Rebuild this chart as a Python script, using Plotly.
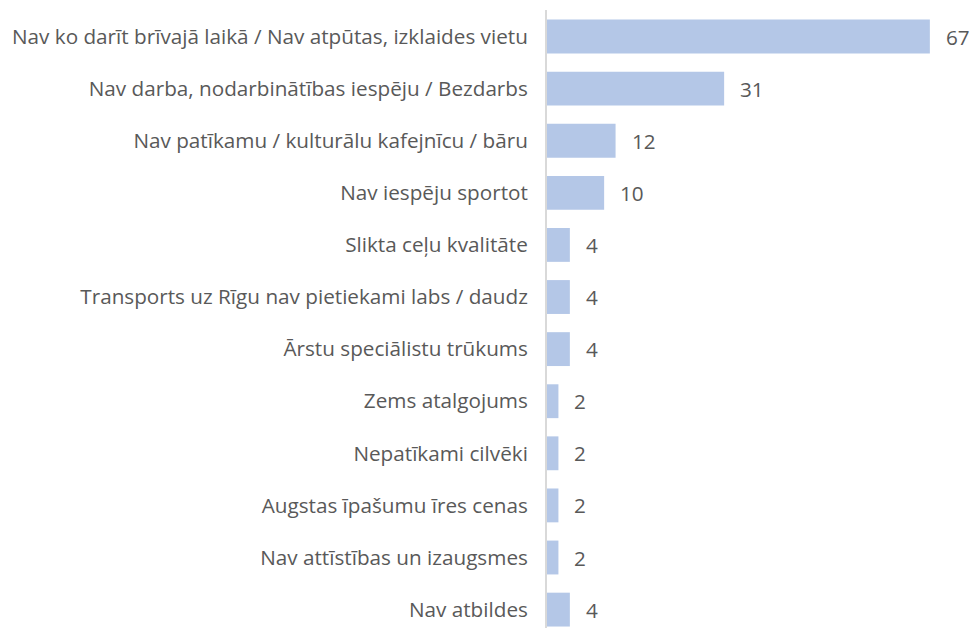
import plotly.graph_objects as go

categories = [
    "Nav ko darīt brīvajā laikā / Nav atpūtas, izklaides vietu",
    "Nav darba, nodarbinātības iespēju / Bezdarbs",
    "Nav patīkamu / kulturālu kafejnīcu / bāru",
    "Nav iespēju sportot",
    "Slikta ceļu kvalitāte",
    "Transports uz Rīgu nav pietiekami labs / daudz",
    "Ārstu speciālistu trūkums",
    "Zems atalgojums",
    "Nepatīkami cilvēki",
    "Augstas īpašumu īres cenas",
    "Nav attīstības un izaugsmes",
    "Nav atbildes",
]
values = [67, 31, 12, 10, 4, 4, 4, 2, 2, 2, 2, 4]

FONT = "Open Sans"
TXT = "#595959"
FS = 20.7

fig = go.Figure(go.Bar(
    x=values, y=categories, orientation="h",
    marker=dict(color="#B4C7E7", line=dict(width=0)),
    hoverinfo="skip",
))

for c, v in zip(categories, values):
    fig.add_annotation(x=v, y=c, text=str(v), showarrow=False,
                       xanchor="left", xshift=14,
                       font=dict(family=FONT, size=FS, color=TXT))

fig.update_layout(
    width=971, height=628,
    margin=dict(l=547, r=0, t=10, b=0, autoexpand=False),
    paper_bgcolor="white", plot_bgcolor="white",
    bargap=0.35, showlegend=False,
    font=dict(family=FONT, size=FS, color=TXT),
    xaxis=dict(range=[0, 74.2], visible=False, showgrid=False, zeroline=False,
               automargin=False),
    yaxis=dict(type="category", range=[11.353, -0.509], showgrid=False,
               zeroline=False, showline=True, linecolor="#D9D9D9", linewidth=2,
               ticks="", ticklabelstandoff=13, automargin=False,
               tickfont=dict(family=FONT, size=FS, color=TXT)),
)

fig.write_html(
    "out.html",
    config={"displayModeBar": False},
    post_script="document.body.style.margin='0';document.body.style.overflow='hidden';",
)
